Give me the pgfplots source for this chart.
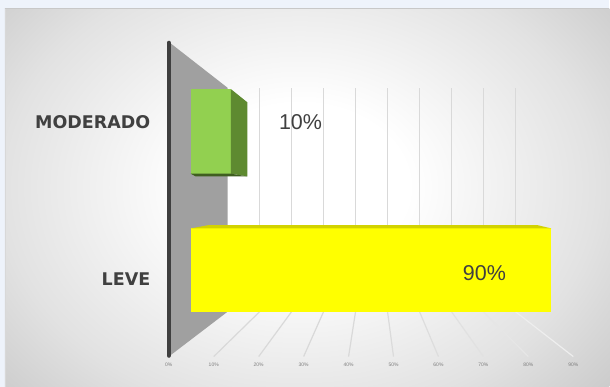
\documentclass[border=0pt]{standalone}
\usepackage{pgfplots}
\pgfplotsset{compat=1.18}
\usepackage{fontspec}
\setmainfont{Liberation Sans}
\newfontfamily\dejavu{DejaVu Sans}
\definecolor{outerbg}{HTML}{EEF3FB}
\definecolor{bggray}{HTML}{B4B4B4}
\definecolor{bgmid}{HTML}{E2E2E2}
\definecolor{borderg}{HTML}{C8C8C8}
\definecolor{wallgray}{HTML}{A0A0A0}
\definecolor{axisdark}{HTML}{3F3F3F}
\definecolor{gridgray}{HTML}{D9D9D9}
\definecolor{greenfront}{HTML}{92D050}
\definecolor{greenside}{HTML}{5E8A30}
\definecolor{greenshadow}{HTML}{3F5E20}
\definecolor{yellowfront}{HTML}{FFFF00}
\definecolor{yellowtop}{HTML}{D2D200}
\definecolor{labelgray}{HTML}{404040}
\definecolor{ticklab}{HTML}{7F7F7F}
\pgfdeclareradialshading{bgshade}{\pgfpoint{0bp}{0bp}}{color(0bp)=(white); color(8bp)=(white); color(22bp)=(bgmid); color(38bp)=(bggray); color(50bp)=(bggray)}
\begin{document}
\begin{tikzpicture}[x=1pt,y=1pt]
% background
\fill[outerbg] (0,0) rectangle (610,387);
\begin{scope}
\clip (5,0) rectangle (610,378);
\shade[shading=bgshade] (-40,-60) rectangle (640,460);
\end{scope}
\draw[borderg, line width=1.5pt] (5,378.5) -- (610,378.5);
\draw[borderg!70, line width=0.8pt] (5.4,0) -- (5.4,378);
% side wall
\fill[wallgray] (169,345) -- (228,299) -- (228,75) -- (169,30) -- cycle;
% floor lines
\foreach \k/\c in {1/100,2/100,3/100,4/100,5/95,6/90,7/80,8/65,9/45}{
  \draw[gridgray!\c!white, line width=1.2pt] ({228+32*\k},75) -- ({169+45*\k},30);
}
% back wall grid
\begin{axis}[at={(228pt,75pt)}, anchor=south west, scale only axis,
  width=288pt, height=224pt, xmin=0, xmax=0.9, ymin=0, ymax=1,
  axis line style={draw=none}, xtick={0.1,0.2,0.3,0.4,0.5,0.6,0.7,0.8,0.9},
  ytick=\empty, xticklabels={}, major tick length=0pt,
  xmajorgrids, grid style={gridgray, line width=1.3pt}]
\addplot[draw=none] coordinates {(0,0)};
\end{axis}
% floor tick labels
\begin{axis}[at={(169pt,30pt)}, anchor=south west, scale only axis,
  width=405pt, height=10pt, xmin=0, xmax=0.9, ymin=0, ymax=1,
  axis line style={draw=none}, ytick=\empty, major tick length=0pt,
  xtick={0,0.1,0.2,0.3,0.4,0.5,0.6,0.7,0.8,0.9},
  xticklabels={0\%,10\%,20\%,30\%,40\%,50\%,60\%,70\%,80\%,90\%},
  xticklabel style={font=\fontsize{5}{6}\selectfont, text=ticklab, yshift=-3pt}]
\addplot[draw=none] coordinates {(0,0)};
\end{axis}
% axis line
\draw[axisdark, line width=4.5pt, line cap=round] (169,344) -- (169,31);
% bars
\begin{axis}[at={(169pt,30pt)}, anchor=south west, scale only axis,
  width=405pt, height=315pt, xmin=-0.0548, xmax=0.955, ymin=-0.622, ymax=1.644,
  axis line style={draw=none}, xtick=\empty, major tick length=0pt,
  ytick={-0.062,1.063}, yticklabels={LEVE,MODERADO},
  yticklabel style={font=\dejavu\bfseries\fontsize{17.5}{20}\selectfont, text=labelgray, xshift=-15pt},
  clip=false]
% MODERADO (green)
\addplot[xbar, bar width=85pt, fill=greenfront, draw=none] coordinates {(0.1,1)};
\addplot[fill=greenside, draw=none] coordinates {(0.1,1.305) (0.1414,1.209) (0.1414,0.676) (0.1,0.695)};
\addplot[fill=greenshadow, draw=none] coordinates {(0.0,0.695) (0.1,0.695) (0.1414,0.676) (0.012,0.676)};
% LEVE (yellow)
\addplot[xbar, bar width=84pt, fill=yellowfront, draw=none] coordinates {(0.9,0)};
\addplot[fill=yellowtop, draw=none] coordinates {(0,0.301) (0.9,0.301) (0.865,0.325) (0.045,0.325)};
\node[font=\fontsize{21.5}{24}\selectfont, text=labelgray] at (axis cs:0.274,1.07) {10\%};
\node[font=\fontsize{21.5}{24}\selectfont, text=labelgray] at (axis cs:0.733,-0.019) {90\%};
\end{axis}
\end{tikzpicture}
\end{document}
